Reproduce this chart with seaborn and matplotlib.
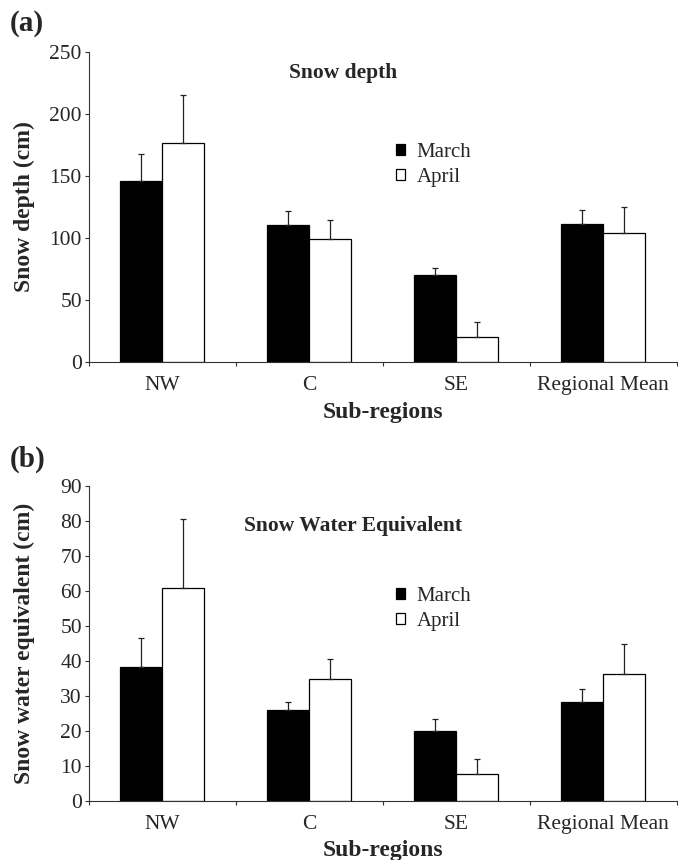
import numpy as np
import pandas as pd
import seaborn as sns
import matplotlib.pyplot as plt
from matplotlib.ticker import FixedLocator

sns.set_style("ticks")
plt.rcParams["font.family"] = ["Liberation Serif", "DejaVu Serif"]

regions = ["NW", "C", "SE", "Regional Mean"]
months = ["March", "April"]

depth_march = [146, 110.5, 70, 111]
depth_april = [177, 99, 20.5, 104]
depth_march_top = [168, 122, 75.5, 123]   # upper end of error bars
depth_april_top = [215, 114.5, 32, 125]

swe_march = [38.3, 25.9, 19.9, 28.3]
swe_april = [60.8, 34.7, 7.6, 36.2]
swe_march_top = [46.6, 28.3, 23.3, 32.1]
swe_april_top = [80.4, 40.4, 12.1, 44.7]

depth_ticks = [0, 50, 100, 150, 200, 250]
swe_ticks = [0, 10, 20, 30, 40, 50, 60, 70, 80, 90]


def make_frame(march, april):
    return pd.DataFrame({
        "region": regions * 2,
        "month": [months[0]] * 4 + [months[1]] * 4,
        "value": list(march) + list(april),
    })


def draw_panel(ax, df, tops, ticks, ylabel, title, title_xy, legend_y, letter, letter_y, xlab_y):
    sns.barplot(data=df, x="region", y="value", hue="month", order=regions,
                hue_order=months, palette=["black", "white"], edgecolor="black",
                linewidth=0.9, width=0.57, gap=0, errorbar=None, ax=ax)

    # one-sided error bars (upper only)
    for cont, top in zip(ax.containers, tops):
        xs = [b.get_x() + b.get_width() / 2 for b in cont]
        ys = [b.get_height() for b in cont]
        up = np.array(top) - np.array(ys)
        ax.errorbar(xs, ys, yerr=[np.zeros(len(ys)), up], fmt="none",
                    ecolor="#222222", elinewidth=0.9, capsize=2, capthick=0.9)

    ax.set_xlim(-0.5, 3.5)
    ax.set_ylim(ticks[0], ticks[-1])
    ax.set_yticks(ticks)
    ax.xaxis.set_minor_locator(FixedLocator([-0.5, 0.5, 1.5, 2.5, 3.5]))
    ax.tick_params(axis="x", which="major", length=0, pad=10, labelsize=15.5)
    ax.tick_params(axis="x", which="minor", length=3, width=0.8, color="#333333")
    ax.tick_params(axis="y", length=3, width=0.8, pad=2, labelsize=15.5, color="#333333")
    for s in ["top", "right"]:
        ax.spines[s].set_visible(False)
    for s in ["left", "bottom"]:
        ax.spines[s].set_linewidth(0.8)
        ax.spines[s].set_color("#333333")

    ax.set_ylabel(ylabel, fontsize=17, fontweight="bold")
    ax.yaxis.set_label_coords(-0.092, 0.5)
    ax.set_xlabel("Sub-regions", fontsize=17, fontweight="bold")
    ax.xaxis.set_label_coords(0.5, xlab_y)

    ax.text(title_xy[0], title_xy[1], title, transform=ax.transAxes,
            ha="center", va="center", fontsize=15.5, fontweight="bold")

    handles, labels = ax.get_legend_handles_labels()
    ax.legend(handles, labels, loc="upper left", bbox_to_anchor=(0.508, legend_y),
              frameon=False, fontsize=15, handlelength=0.45, handleheight=0.45,
              handletextpad=0.55, labelspacing=0.3, borderaxespad=0)

    ax.figure.text(0.015, letter_y, letter, fontsize=21, fontweight="bold",
                   va="top", ha="left")


fig = plt.figure(figsize=(6.78, 8.6), dpi=100)
ax1 = fig.add_axes([0.131, 0.579, 0.867, 0.3605])
ax2 = fig.add_axes([0.131, 0.0686, 0.867, 0.3666])

draw_panel(ax1, make_frame(depth_march, depth_april),
           [depth_march_top, depth_april_top], depth_ticks,
           "Snow depth (cm)", "Snow depth", (0.432, 0.932), 0.735, "(a)", 0.988, -0.128)
draw_panel(ax2, make_frame(swe_march, swe_april),
           [swe_march_top, swe_april_top], swe_ticks,
           "Snow water equivalent (cm)", "Snow Water Equivalent", (0.45, 0.872),
           0.705, "(b)", 0.482, -0.125)

fig.savefig("out.png", dpi=100)
